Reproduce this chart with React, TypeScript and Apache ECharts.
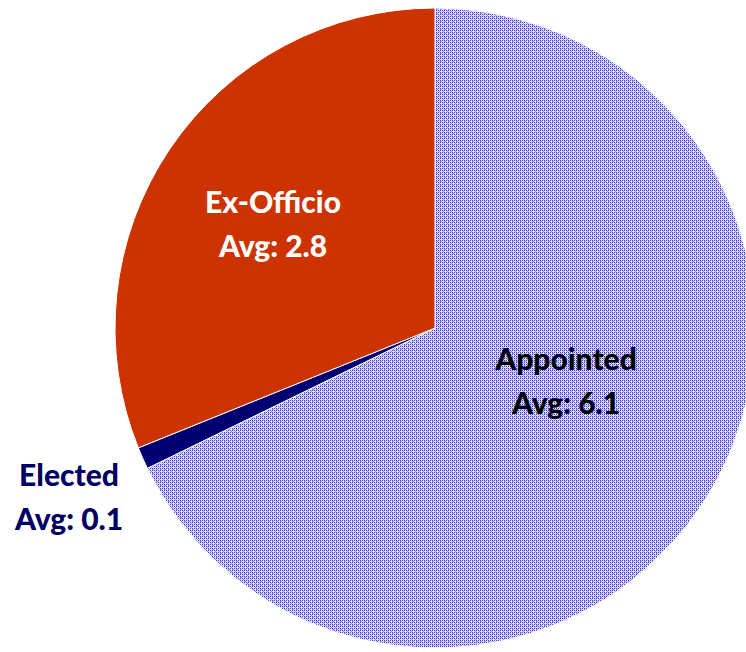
import React, { useEffect, useRef } from "react";
import * as echarts from "echarts";

const categories = ["Appointed", "Elected", "Ex-Officio"];
const values = [6.1, 0.1, 2.8];
const labelTexts = ["Appointed\nAvg: 6.1", "Elected\nAvg: 0.1", "Ex-Officio\nAvg: 2.8"];

function makePattern(): string {
  const c = document.createElement("canvas");
  c.width = 4;
  c.height = 4;
  const ctx = c.getContext("2d")!;
  ctx.fillStyle = "#dfe0f2";
  ctx.fillRect(0, 0, 4, 4);
  ctx.fillStyle = "#3e44b2";
  ctx.fillRect(0, 0, 1, 1);
  ctx.fillRect(2, 0, 1, 1);
  ctx.fillRect(0, 2, 1, 1);
  ctx.fillRect(2, 2, 1, 1);
  ctx.fillStyle = "#9296d4";
  ctx.fillRect(1, 1, 1, 1);
  ctx.fillRect(3, 3, 1, 1);
  ctx.fillRect(0, 1, 1, 1);
  return c.toDataURL();
}

export default function App() {
  const ref = useRef<HTMLDivElement>(null);
  useEffect(() => {
    document.body.style.margin = "0";
    const chart = echarts.init(ref.current!, null, { renderer: "svg" });
    const pattern = makePattern();
    const colors: any[] = [{ image: pattern, repeat: "repeat" }, "#000072", "#cc3300"];
    const labelColors = ["#000000", "#000066", "#ffffff"];
    const labelPos = [
      [566, 380],
      [69, 496],
      [273, 223],
    ];
    chart.setOption({
      animation: false,
      series: [
        {
          type: "pie",
          center: [435, 328],
          radius: 320,
          startAngle: 90,
          clockwise: true,
          data: categories.map((name, i) => ({
            name,
            value: values[i],
            itemStyle: { color: colors[i] },
            label: { color: labelColors[i] },
          })),
          itemStyle: { borderColor: "#ffffff", borderWidth: 1 },
          label: {
            show: true,
            position: "inside",
            formatter: (p: any) => labelTexts[p.dataIndex],
            fontFamily: "Lato",
            fontWeight: 900,
            fontSize: 30,
            lineHeight: 44,
            align: "center",
          },
          labelLine: { show: false },
          labelLayout: (p: any) => ({
            x: labelPos[p.dataIndex][0],
            y: labelPos[p.dataIndex][1],
            align: "center",
            verticalAlign: "middle",
          }),
        },
      ],
    });
    return () => chart.dispose();
  }, []);
  return <div ref={ref} style={{ width: 746, height: 652 }} />;
}
